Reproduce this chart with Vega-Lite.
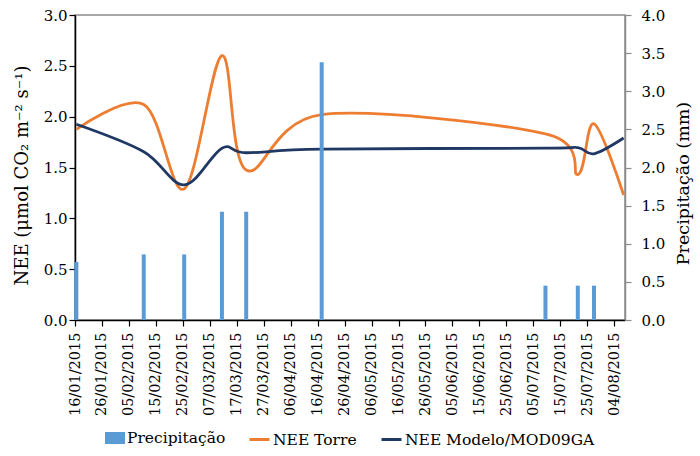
{
  "$schema": "https://vega.github.io/schema/vega-lite/v6.json",
  "width": 550,
  "height": 305,
  "autosize": {"type": "none"},
  "padding": {"left": 75, "top": 15, "right": 75, "bottom": 136},
  "background": "white",
  "config": {
    "font": "DejaVu Serif",
    "view": {"stroke": "#8c8c8c", "strokeWidth": 1.5},
    "axis": {"grid": false, "labelColor": "#000", "titleColor": "#000", "titleFontWeight": "normal", "tickSize": 6, "domainWidth": 1.5, "tickWidth": 1.2}
  },
  "datasets": {
    "precip": [
      {"date": "2015-01-16", "precip": 0.76},
      {"date": "2015-02-10", "precip": 0.86},
      {"date": "2015-02-25", "precip": 0.86},
      {"date": "2015-03-11", "precip": 1.42},
      {"date": "2015-03-20", "precip": 1.42},
      {"date": "2015-04-17", "precip": 3.38},
      {"date": "2015-07-09", "precip": 0.45},
      {"date": "2015-07-21", "precip": 0.45},
      {"date": "2015-07-27", "precip": 0.45}
    ],
    "nee": [
      {"date": "2015-01-16", "serie": "NEE Torre", "nee": 1.875},
      {"date": "2015-02-10", "serie": "NEE Torre", "nee": 2.12},
      {"date": "2015-02-25", "serie": "NEE Torre", "nee": 1.29},
      {"date": "2015-03-11", "serie": "NEE Torre", "nee": 2.6},
      {"date": "2015-03-20", "serie": "NEE Torre", "nee": 1.475},
      {"date": "2015-04-17", "serie": "NEE Torre", "nee": 2.02},
      {"date": "2015-07-09", "serie": "NEE Torre", "nee": 1.83},
      {"date": "2015-07-21", "serie": "NEE Torre", "nee": 1.43},
      {"date": "2015-07-27", "serie": "NEE Torre", "nee": 1.93},
      {"date": "2015-08-07", "serie": "NEE Torre", "nee": 1.23},
      {"date": "2015-01-16", "serie": "NEE Modelo/MOD09GA", "nee": 1.925},
      {"date": "2015-02-10", "serie": "NEE Modelo/MOD09GA", "nee": 1.655},
      {"date": "2015-02-25", "serie": "NEE Modelo/MOD09GA", "nee": 1.33},
      {"date": "2015-03-11", "serie": "NEE Modelo/MOD09GA", "nee": 1.69},
      {"date": "2015-03-20", "serie": "NEE Modelo/MOD09GA", "nee": 1.645},
      {"date": "2015-04-17", "serie": "NEE Modelo/MOD09GA", "nee": 1.68},
      {"date": "2015-07-09", "serie": "NEE Modelo/MOD09GA", "nee": 1.69},
      {"date": "2015-07-21", "serie": "NEE Modelo/MOD09GA", "nee": 1.695},
      {"date": "2015-07-27", "serie": "NEE Modelo/MOD09GA", "nee": 1.635},
      {"date": "2015-08-07", "serie": "NEE Modelo/MOD09GA", "nee": 1.79}
    ]
  },
  "encoding": {
    "x": {
      "field": "date",
      "type": "temporal",
      "timeUnit": "utcyearmonthdate",
      "bandPosition": 0.5,
      "scale": {"domain": [
        {"year": 2015, "month": 1, "date": 16, "utc": true},
        {"year": 2015, "month": 8, "date": 8, "utc": true}
      ]},
      "axis": {
        "title": null,
        "values": [
          {"year": 2015, "month": 1, "date": 16, "utc": true},
          {"year": 2015, "month": 1, "date": 26, "utc": true},
          {"year": 2015, "month": 2, "date": 5, "utc": true},
          {"year": 2015, "month": 2, "date": 15, "utc": true},
          {"year": 2015, "month": 2, "date": 25, "utc": true},
          {"year": 2015, "month": 3, "date": 7, "utc": true},
          {"year": 2015, "month": 3, "date": 17, "utc": true},
          {"year": 2015, "month": 3, "date": 27, "utc": true},
          {"year": 2015, "month": 4, "date": 6, "utc": true},
          {"year": 2015, "month": 4, "date": 16, "utc": true},
          {"year": 2015, "month": 4, "date": 26, "utc": true},
          {"year": 2015, "month": 5, "date": 6, "utc": true},
          {"year": 2015, "month": 5, "date": 16, "utc": true},
          {"year": 2015, "month": 5, "date": 26, "utc": true},
          {"year": 2015, "month": 6, "date": 5, "utc": true},
          {"year": 2015, "month": 6, "date": 15, "utc": true},
          {"year": 2015, "month": 6, "date": 25, "utc": true},
          {"year": 2015, "month": 7, "date": 5, "utc": true},
          {"year": 2015, "month": 7, "date": 15, "utc": true},
          {"year": 2015, "month": 7, "date": 25, "utc": true},
          {"year": 2015, "month": 8, "date": 4, "utc": true}
        ],
        "labelExpr": "utcFormat(datum.value, '%d/%m/%Y')",
        "labelAngle": 270,
        "labelAlign": "right",
        "labelBaseline": "middle",
        "labelFontSize": 14.5,
        "labelPadding": 6,
        "labelOverlap": false,
        "labelFlush": false,
        "labelBound": false,
        "domainColor": "#000",
        "tickColor": "#000"
      }
    }
  },
  "layer": [
    {
      "data": {"name": "nee"},
      "mark": {"type": "line", "interpolate": "cardinal", "strokeWidth": 2.8},
      "encoding": {
        "y": {
          "field": "nee",
          "type": "quantitative",
          "scale": {"domain": [0, 3]},
          "axis": {
            "orient": "left",
            "values": [0, 0.5, 1, 1.5, 2, 2.5, 3],
            "format": ".1f",
            "labelFontSize": 15,
            "labelPadding": 2,
            "domainColor": "#000",
            "tickColor": "#000",
            "title": "NEE (μmol CO₂ m⁻² s⁻¹)",
            "titleFontSize": 18,
            "titleAngle": 270,
            "titleX": -53,
            "titleY": 160,
            "titleAlign": "center",
            "titleBaseline": "middle"
          }
        },
        "stroke": {
          "field": "serie",
          "type": "nominal",
          "scale": {"domain": ["NEE Torre", "NEE Modelo/MOD09GA"], "range": ["#ED7D31", "#1F3864"]},
          "legend": {
            "orient": "none",
            "legendX": 173,
            "legendY": 413,
            "direction": "horizontal",
            "title": null,
            "symbolType": "stroke",
            "symbolSize": 400,
            "symbolStrokeWidth": 3,
            "labelFontSize": 15.5,
            "labelLimit": 0,
            "labelColor": "#000",
            "labelOffset": 2,
            "columnPadding": 18,
            "padding": 0
          }
        }
      }
    },
    {
      "data": {"name": "precip"},
      "mark": {"type": "bar", "width": 4},
      "encoding": {
        "y": {
          "field": "precip",
          "type": "quantitative",
          "scale": {"domain": [0, 4]},
          "axis": {
            "orient": "right",
            "values": [0, 0.5, 1, 1.5, 2, 2.5, 3, 3.5, 4],
            "format": ".1f",
            "labelFontSize": 15,
            "labelPadding": 10,
            "domainColor": "#8c8c8c",
            "tickColor": "#8c8c8c",
            "title": "Precipitação (mm)",
            "titleFontSize": 17.5,
            "titleAngle": 270,
            "titleX": 58,
            "titleY": 168,
            "titleAlign": "center",
            "titleBaseline": "middle"
          }
        },
        "fill": {
          "datum": "Precipitação",
          "type": "nominal",
          "scale": {"range": ["#5B9BD5"]},
          "legend": {
            "orient": "none",
            "legendX": 30,
            "legendY": 413,
            "title": null,
            "symbolType": "M-1,-0.6H1V0.6H-1Z",
            "symbolSize": 400,
            "symbolStrokeWidth": 0,
            "labelFontSize": 15.5,
            "labelLimit": 0,
            "labelColor": "#000",
            "labelOffset": 2,
            "padding": 0
          }
        }
      }
    }
  ],
  "resolve": {"scale": {"y": "independent"}}
}
